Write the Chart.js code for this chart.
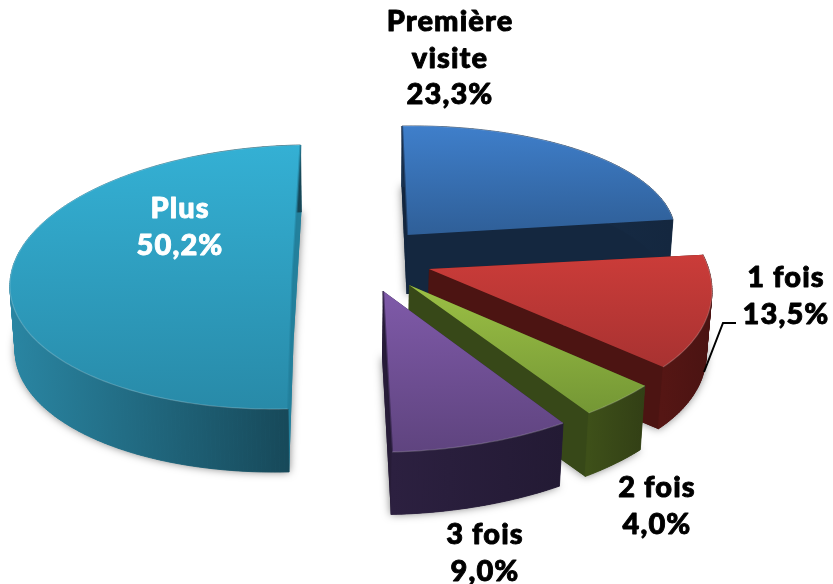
<!DOCTYPE html>
<html><head><meta charset="utf-8">
<style>html,body{margin:0;padding:0;background:#fff}canvas{display:block}</style>
<script src="https://cdn.jsdelivr.net/npm/chart.js@4"></script></head>
<body><div style="width:833px;height:584px"><canvas id="c" width="833" height="584"></canvas></div>
<script>
const categories = [['Première','visite'],['1 fois'],['2 fois'],['3 fois'],['Plus']];
const shares = [23.3, 13.5, 4.0, 9.0, 50.2];

// projection of each exploded slice: hub, unit-circle axes, extrusion vector
const projections = [
  {c:[407,235], x:[268,-4],  y:[-5,-109],  d:[-0.5,59]},
  {c:[429,269], x:[280,1],   y:[-41,-144], d:[-1.5,63.5]},
  {c:[409,285], x:[306,-8],  y:[-15,-158], d:[-1,65.5]},
  {c:[383,291], x:[322,-5],  y:[-5,-161],  d:[-1,65]},
  {c:[292.5,277], x:[282.5,-5], y:[8,-132], d:[1,65]}
];
const BOTTOM_SCALE = 0.985;
const palette = [
  {top:['#3f7fcb','#2f5f98'], cut:'#14273f', wall:['#1a3350','#14273f'], edge:0},
  {top:['#cb3c39','#a83231'], cut:'#4c1412', wall:['#551614','#4a1312'], edge:null},
  {top:['#9cc045','#749735'], cut:'#374818', wall:['#3e5019','#323f15'], edge:null},
  {top:['#7f5aa9','#5f447f'], cut:'#271c38', wall:['#2c2040','#231a34'], edge:1},
  {top:['#34b0d4','#288aa8'], cut:'#23809c', wall:['#2a86a3','#164656'], edge:1}
];
const labelSpots = [
  {x:450, y:31, color:'#000'}, {x:786, y:287, color:'#000'},
  {x:657, y:497, color:'#000'}, {x:485, y:544, color:'#000'},
  {x:180, y:218, color:'#fff'}
];
const LINE = 36.5;
const leader = [[736,323],[723,323],[704,372]];

const pie3d = {
  id:'pie3d',
  beforeDatasetDraw(chart){
    const ctx = chart.ctx, arcs = chart.getDatasetMeta(0).data;
    arcs.forEach((arc,i)=>{
      const p = projections[i], col = palette[i];
      const R = arc.outerRadius, a0 = arc.startAngle, a1 = arc.endAngle;
      const pt = (th)=>[p.c[0]+Math.cos(th)*p.x[0]-Math.sin(th)*p.y[0],
                        p.c[1]+Math.cos(th)*p.x[1]-Math.sin(th)*p.y[1]];
      const n = Math.ceil((a1-a0)*60), rim=[];
      for(let j=0;j<=n;j++) rim.push(pt(a0+(a1-a0)*j/n));
      const hub = p.c;
      const low = q=>[hub[0]+p.d[0]+(q[0]-hub[0])*BOTTOM_SCALE, hub[1]+p.d[1]+(q[1]-hub[1])*BOTTOM_SCALE];
      const lowRim = rim.map(low), lowHub = low(hub);
      const quad=(a,b,c,d)=>{ctx.beginPath();ctx.moveTo(a[0],a[1]);ctx.lineTo(b[0],b[1]);ctx.lineTo(c[0],c[1]);ctx.lineTo(d[0],d[1]);ctx.closePath();ctx.fill();};
      // soft shadow of the underside
      ctx.save();
      ctx.shadowColor='rgba(0,0,0,0.5)'; ctx.shadowBlur=9;
      ctx.fillStyle=col.cut;
      ctx.beginPath(); ctx.moveTo(lowHub[0],lowHub[1]); lowRim.forEach(q=>ctx.lineTo(q[0],q[1])); ctx.closePath(); ctx.fill();
      ctx.restore();
      // cut faces
      ctx.fillStyle=col.cut;
      quad(hub,rim[0],lowRim[0],lowHub);
      quad(hub,rim[n],lowRim[n],lowHub);
      // outer wall, one facet per rim step
      const xs = rim.map(q=>q[0]), mn=Math.min(...xs), mx=Math.max(...xs);
      const wg = ctx.createLinearGradient(mn,0,mx,0);
      wg.addColorStop(0,col.wall[0]); wg.addColorStop(1,col.wall[1]);
      ctx.fillStyle=wg; ctx.strokeStyle=wg; ctx.lineWidth=0.8;
      for(let j=0;j<n;j++){
        quad(rim[j],rim[j+1],lowRim[j+1],lowRim[j]); ctx.stroke();
      }
      // top face: the library's own arc, under the slice's projection
      const det=p.x[0]*p.y[1]-p.x[1]*p.y[0];
      const lys=[0].concat(rim.map(q=>-((q[0]-hub[0])*(-p.x[1])+(q[1]-hub[1])*p.x[0])/det));
      const yMin=Math.min(...lys), yMax=Math.max(...lys);
      ctx.save();
      const sx=1/R;
      ctx.transform(p.x[0]*sx,p.x[1]*sx,-p.y[0]*sx,-p.y[1]*sx,
        p.c[0]-(arc.x*p.x[0]-arc.y*p.y[0])*sx, p.c[1]-(arc.x*p.x[1]-arc.y*p.y[1])*sx);
      const g=ctx.createLinearGradient(0,arc.y+yMin*R,0,arc.y+yMax*R);
      g.addColorStop(0,col.top[0]); g.addColorStop(1,col.top[1]);
      const view=Object.create(arc,{options:{value:Object.assign({},arc.options,{backgroundColor:g,borderWidth:0})}});
      Chart.ArcElement.prototype.draw.call(view,ctx);
      ctx.restore();
      // bevel highlight along the rim
      ctx.save();
      ctx.strokeStyle='rgba(255,255,255,0.2)'; ctx.lineWidth=1.2;
      ctx.beginPath(); rim.forEach((q,j)=>j?ctx.lineTo(q[0],q[1]):ctx.moveTo(q[0],q[1])); ctx.stroke();
      // darker bevel along the straight edge that faces away
      if(col.edge!==null){
        const q = col.edge===0 ? rim[0] : rim[n];
        ctx.strokeStyle=col.cut; ctx.globalAlpha=0.55; ctx.lineWidth=2.2;
        ctx.beginPath(); ctx.moveTo(hub[0],hub[1]); ctx.lineTo(q[0],q[1]);
        if(i===4){ctx.moveTo(hub[0],hub[1]); ctx.lineTo(rim[0][0],rim[0][1]);}
        ctx.stroke();
      }
      ctx.restore();
    });
    return false;
  },
  afterDatasetsDraw(chart){
    const ctx = chart.ctx;
    ctx.save();
    ctx.strokeStyle='#000'; ctx.lineWidth=2;
    ctx.beginPath(); leader.forEach((q,j)=>j?ctx.lineTo(q[0],q[1]):ctx.moveTo(q[0],q[1])); ctx.stroke();
    ctx.textAlign='center'; ctx.textBaseline='alphabetic';
    ctx.font='900 29px Lato';
    ctx.letterSpacing='1.1px';
    ctx.lineJoin='round';
    chart.data.labels.forEach((lab,i)=>{
      const s=labelSpots[i];
      const lines=lab.concat(chart.data.datasets[0].data[i].toFixed(1).replace('.',',')+'%');
      ctx.fillStyle=s.color; ctx.strokeStyle=s.color; ctx.lineWidth=0.9;
      lines.forEach((t,j)=>{ctx.fillText(t,s.x,s.y+j*LINE);ctx.strokeText(t,s.x,s.y+j*LINE);});
    });
    ctx.restore();
  }
};

new Chart(document.getElementById('c'),{
  type:'pie',
  data:{labels:categories,datasets:[{data:shares,borderWidth:0,backgroundColor:palette.map(c=>c.top[0])}]},
  options:{responsive:false,animation:false,layout:{padding:0},
    plugins:{legend:{display:false},tooltip:{enabled:false}}},
  plugins:[pie3d]
});
</script></body></html>
